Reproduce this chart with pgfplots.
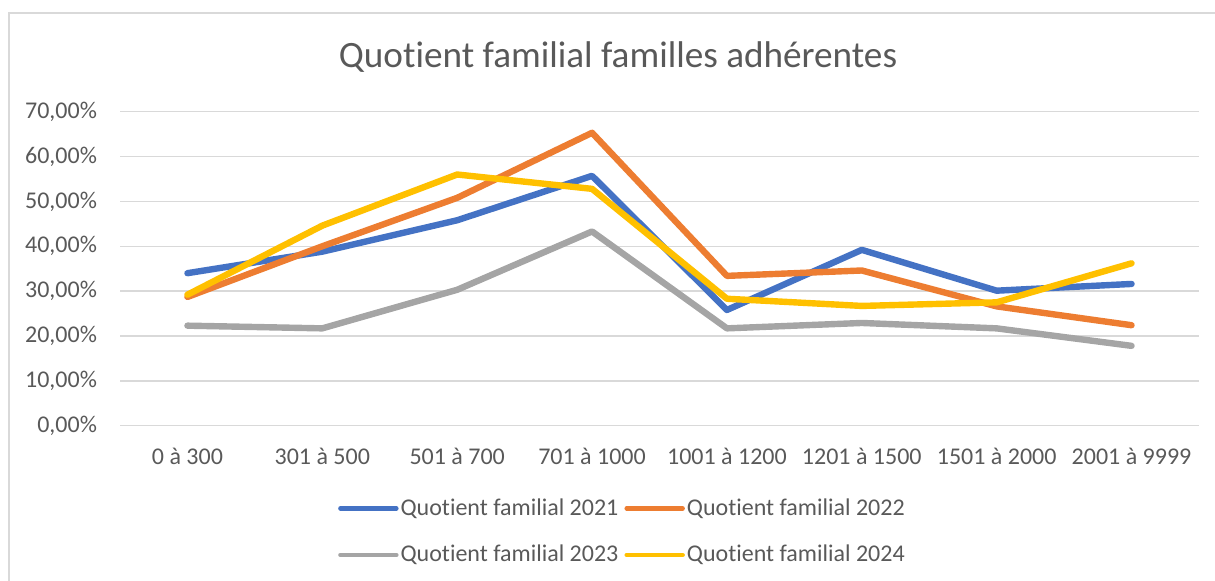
\documentclass[border=0pt]{standalone}
\usepackage{pgfplots}
\pgfplotsset{compat=1.18}
\usepackage{fontspec}
\setmainfont{Carlito}[Ligatures={NoCommon}]
\definecolor{c21}{HTML}{4472C4}
\definecolor{c22}{HTML}{ED7D31}
\definecolor{c23}{HTML}{A5A5A5}
\definecolor{c24}{HTML}{FFC000}
\definecolor{txt}{HTML}{595959}
\definecolor{grd}{HTML}{D9D9D9}
\begin{document}
\begin{tikzpicture}
\path[use as bounding box] (-60pt,-77.65pt) rectangle (547.5pt,212.85pt);
\draw[grd, line width=0.7pt] (-55.5pt,-80pt) -- (-55.5pt,206.35pt) -- (550pt,206.35pt);
\begin{axis}[
  at={(0pt,0pt)}, anchor=south west,
  scale only axis,
  width=539.5pt, height=157pt,
  xmin=-0.5, xmax=7.5, ymin=0, ymax=70,
  axis line style={draw=none},
  ymajorgrids, grid style={grd, line width=0.7pt},
  major tick length=0pt,
  xtick={0,...,7},
  xticklabels={0 à 300, 301 à 500, 501 à 700, 701 à 1000, 1001 à 1200, 1201 à 1500, 1501 à 2000, 2001 à 9999},
  ytick={0,10,...,70},
  yticklabels={{0,00\%},{10,00\%},{20,00\%},{30,00\%},{40,00\%},{50,00\%},{60,00\%},{70,00\%}},
  ticklabel style={font=\fontsize{12pt}{14pt}\selectfont, text=txt},
  xticklabel style={yshift=-7.5pt},
  yticklabel style={xshift=-8pt},
  title={Quotient familial familles adhérentes},
  title style={font=\fontsize{18.6pt}{22pt}\selectfont, text=txt, at={(axis description cs:0.4616,1)}, anchor=base, yshift=16pt},
  legend columns=2,
  legend style={draw=none, fill=none, at={(axis description cs:0.4657,-0.3375)}, anchor=center,
    font=\fontsize{12pt}{14pt}\selectfont, text=txt,
    /tikz/every even column/.append style={column sep=2pt},
    row sep=13.5pt, inner sep=0pt,
    nodes={inner xsep=1pt, inner ysep=0pt}},
  legend image code/.code={\draw[#1, line width=2.2pt, line cap=round] (0pt,0pt) -- (28pt,0pt);},
  every axis plot/.append style={line width=3.2pt, line join=round, line cap=round},
]
\addplot[c21] coordinates {(0,34.0) (1,38.8) (2,45.8) (3,55.7) (4,25.8) (5,39.2) (6,30.1) (7,31.6)};
\addlegendentry{Quotient familial 2021}
\addplot[c22] coordinates {(0,28.7) (1,40.0) (2,50.8) (3,65.3) (4,33.4) (5,34.6) (6,26.6) (7,22.4)};
\addlegendentry{Quotient familial 2022}
\addplot[c23] coordinates {(0,22.3) (1,21.7) (2,30.3) (3,43.3) (4,21.7) (5,22.9) (6,21.7) (7,17.8)};
\addlegendentry{Quotient familial 2023}
\addplot[c24] coordinates {(0,29.2) (1,44.6) (2,56.0) (3,52.8) (4,28.3) (5,26.7) (6,27.5) (7,36.2)};
\addlegendentry{Quotient familial 2024}
\end{axis}
\end{tikzpicture}
\end{document}
